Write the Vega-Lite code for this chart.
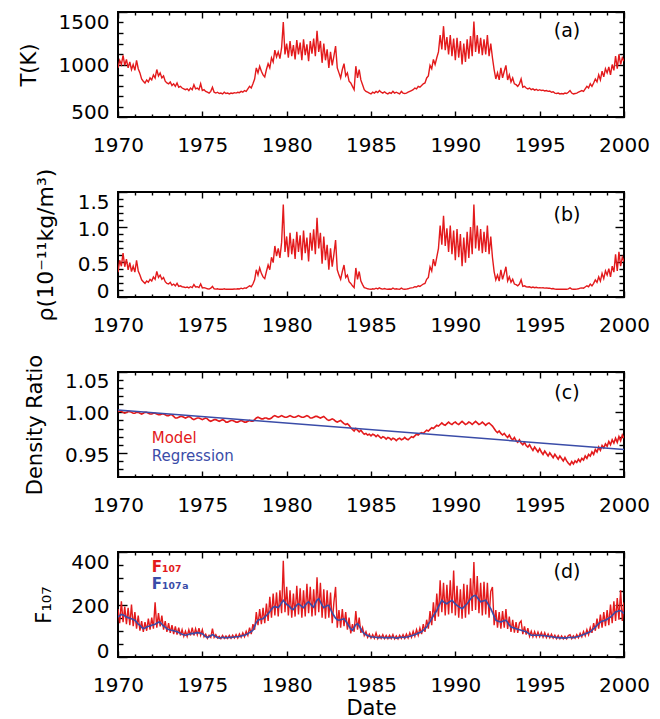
{
"$schema":"https://vega.github.io/schema/vega-lite/v6.json",
"background":"white",
"padding":{"left":17,"top":10,"right":5,"bottom":2},
"spacing":75,
"bounds":"flush",
"config":{
 "view":{"stroke":"#000","strokeWidth":2},
 "axis":{"domain":false,"grid":false,"labelOverlap":false,"labelBound":false,"labelFlush":false,"tickColor":"#000","tickWidth":1.4,"labelFont":"DejaVu Sans","labelFontSize":20,"labelColor":"#000","titleFont":"DejaVu Sans","titleFontSize":21,"titleFontWeight":"normal","titleColor":"#000","zindex":1}
},
"datasets":{
"reg":[{"t":1970,"c":1.003},{"t":2000,"c":0.954}],
"d":[
{"t":1970.0,"T":968,"r":0.355,"c":1.001,"f":183,"fa":152},
{"t":1970.1,"T":1040,"r":0.525,"c":1.002,"f":129,"fa":158},
{"t":1970.2,"T":1000,"r":0.44,"c":1.001,"f":212,"fa":162},
{"t":1970.3,"T":1088,"r":0.627,"c":1.000,"f":133,"fa":160},
{"t":1970.4,"T":992,"r":0.432,"c":0.999,"f":192,"fa":157},
{"t":1970.5,"T":1048,"r":0.542,"c":1.000,"f":125,"fa":152},
{"t":1970.6,"T":968,"r":0.389,"c":1.001,"f":187,"fa":150},
{"t":1970.7,"T":1024,"r":0.491,"c":1.001,"f":121,"fa":148},
{"t":1970.8,"T":952,"r":0.364,"c":1.000,"f":200,"fa":146},
{"t":1970.9,"T":1000,"r":0.44,"c":0.999,"f":117,"fa":143},
{"t":1971.0,"T":944,"r":0.355,"c":0.999,"f":171,"fa":140},
{"t":1971.1,"T":1040,"r":0.525,"c":1.000,"f":108,"fa":133},
{"t":1971.2,"T":960,"r":0.372,"c":1.000,"f":158,"fa":125},
{"t":1971.3,"T":920,"r":0.313,"c":0.999,"f":100,"fa":121},
{"t":1971.4,"T":862,"r":0.245,"c":0.998,"f":137,"fa":113},
{"t":1971.5,"T":841,"r":0.219,"c":0.999,"f":96,"fa":108},
{"t":1971.6,"T":824,"r":0.194,"c":1.000,"f":133,"fa":110},
{"t":1971.7,"T":853,"r":0.228,"c":1.000,"f":100,"fa":114},
{"t":1971.8,"T":834,"r":0.21,"c":0.999,"f":146,"fa":117},
{"t":1971.9,"T":872,"r":0.253,"c":0.998,"f":104,"fa":118},
{"t":1972.0,"T":853,"r":0.228,"c":0.998,"f":150,"fa":121},
{"t":1972.1,"T":901,"r":0.287,"c":0.999,"f":108,"fa":123},
{"t":1972.2,"T":872,"r":0.253,"c":0.999,"f":208,"fa":125},
{"t":1972.3,"T":952,"r":0.364,"c":0.998,"f":112,"fa":129},
{"t":1972.4,"T":891,"r":0.279,"c":0.997,"f":167,"fa":133},
{"t":1972.5,"T":920,"r":0.313,"c":0.997,"f":117,"fa":132},
{"t":1972.6,"T":872,"r":0.253,"c":0.998,"f":158,"fa":125},
{"t":1972.7,"T":891,"r":0.279,"c":0.998,"f":104,"fa":118},
{"t":1972.8,"T":841,"r":0.219,"c":0.997,"f":137,"fa":114},
{"t":1972.9,"T":824,"r":0.194,"c":0.996,"f":96,"fa":108},
{"t":1973.0,"T":816,"r":0.185,"c":0.996,"f":129,"fa":105},
{"t":1973.1,"T":834,"r":0.21,"c":0.997,"f":92,"fa":103},
{"t":1973.2,"T":800,"r":0.168,"c":0.997,"f":121,"fa":102},
{"t":1973.3,"T":816,"r":0.185,"c":0.995,"f":87,"fa":100},
{"t":1973.4,"T":792,"r":0.16,"c":0.993,"f":117,"fa":98},
{"t":1973.5,"T":824,"r":0.194,"c":0.993,"f":85,"fa":96},
{"t":1973.6,"T":784,"r":0.151,"c":0.994,"f":112,"fa":93},
{"t":1973.7,"T":792,"r":0.16,"c":0.995,"f":82,"fa":90},
{"t":1973.8,"T":776,"r":0.147,"c":0.995,"f":104,"fa":87},
{"t":1973.9,"T":768,"r":0.143,"c":0.994,"f":79,"fa":85},
{"t":1974.0,"T":760,"r":0.134,"c":0.993,"f":98,"fa":83},
{"t":1974.1,"T":768,"r":0.143,"c":0.994,"f":78,"fa":85},
{"t":1974.2,"T":752,"r":0.13,"c":0.995,"f":104,"fa":87},
{"t":1974.3,"T":776,"r":0.147,"c":0.994,"f":82,"fa":89},
{"t":1974.4,"T":760,"r":0.134,"c":0.992,"f":112,"fa":90},
{"t":1974.5,"T":808,"r":0.177,"c":0.991,"f":82,"fa":89},
{"t":1974.6,"T":768,"r":0.143,"c":0.992,"f":108,"fa":92},
{"t":1974.7,"T":776,"r":0.147,"c":0.993,"f":85,"fa":93},
{"t":1974.8,"T":760,"r":0.134,"c":0.993,"f":110,"fa":92},
{"t":1974.9,"T":816,"r":0.185,"c":0.992,"f":83,"fa":90},
{"t":1975.0,"T":752,"r":0.13,"c":0.991,"f":104,"fa":89},
{"t":1975.1,"T":760,"r":0.134,"c":0.992,"f":77,"fa":83},
{"t":1975.2,"T":744,"r":0.126,"c":0.993,"f":87,"fa":78},
{"t":1975.3,"T":736,"r":0.117,"c":0.992,"f":71,"fa":74},
{"t":1975.4,"T":728,"r":0.113,"c":0.990,"f":83,"fa":77},
{"t":1975.5,"T":744,"r":0.126,"c":0.989,"f":75,"fa":81},
{"t":1975.6,"T":784,"r":0.151,"c":0.990,"f":108,"fa":85},
{"t":1975.7,"T":736,"r":0.117,"c":0.991,"f":75,"fa":82},
{"t":1975.8,"T":728,"r":0.113,"c":0.991,"f":85,"fa":77},
{"t":1975.9,"T":736,"r":0.117,"c":0.990,"f":72,"fa":75},
{"t":1976.0,"T":724,"r":0.11,"c":0.989,"f":79,"fa":72},
{"t":1976.1,"T":728,"r":0.113,"c":0.990,"f":70,"fa":73},
{"t":1976.2,"T":720,"r":0.11,"c":0.991,"f":82,"fa":75},
{"t":1976.3,"T":736,"r":0.117,"c":0.990,"f":71,"fa":74},
{"t":1976.4,"T":724,"r":0.11,"c":0.988,"f":80,"fa":73},
{"t":1976.5,"T":728,"r":0.113,"c":0.988,"f":71,"fa":74},
{"t":1976.6,"T":720,"r":0.11,"c":0.989,"f":82,"fa":75},
{"t":1976.7,"T":728,"r":0.113,"c":0.990,"f":71,"fa":74},
{"t":1976.8,"T":724,"r":0.11,"c":0.990,"f":83,"fa":75},
{"t":1976.9,"T":732,"r":0.115,"c":0.989,"f":72,"fa":76},
{"t":1977.0,"T":728,"r":0.113,"c":0.988,"f":85,"fa":77},
{"t":1977.1,"T":736,"r":0.117,"c":0.988,"f":72,"fa":77},
{"t":1977.2,"T":732,"r":0.115,"c":0.989,"f":88,"fa":78},
{"t":1977.3,"T":744,"r":0.126,"c":0.990,"f":75,"fa":80},
{"t":1977.4,"T":736,"r":0.117,"c":0.989,"f":92,"fa":82},
{"t":1977.5,"T":752,"r":0.13,"c":0.988,"f":77,"fa":83},
{"t":1977.6,"T":744,"r":0.126,"c":0.988,"f":98,"fa":86},
{"t":1977.7,"T":768,"r":0.143,"c":0.989,"f":82,"fa":89},
{"t":1977.8,"T":792,"r":0.16,"c":0.990,"f":112,"fa":93},
{"t":1977.9,"T":776,"r":0.147,"c":0.989,"f":87,"fa":97},
{"t":1978.0,"T":816,"r":0.185,"c":0.989,"f":125,"fa":102},
{"t":1978.1,"T":862,"r":0.245,"c":0.991,"f":104,"fa":117},
{"t":1978.2,"T":968,"r":0.389,"c":0.993,"f":171,"fa":132},
{"t":1978.3,"T":920,"r":0.313,"c":0.994,"f":121,"fa":140},
{"t":1978.4,"T":984,"r":0.415,"c":0.993,"f":183,"fa":143},
{"t":1978.5,"T":936,"r":0.338,"c":0.992,"f":125,"fa":145},
{"t":1978.6,"T":901,"r":0.287,"c":0.992,"f":187,"fa":146},
{"t":1978.7,"T":882,"r":0.262,"c":0.993,"f":129,"fa":152},
{"t":1978.8,"T":952,"r":0.364,"c":0.993,"f":204,"fa":158},
{"t":1978.9,"T":1008,"r":0.457,"c":0.992,"f":137,"fa":165},
{"t":1979.0,"T":968,"r":0.389,"c":0.992,"f":229,"fa":173},
{"t":1979.1,"T":1064,"r":0.568,"c":0.993,"f":150,"fa":182},
{"t":1979.2,"T":1024,"r":0.491,"c":0.995,"f":242,"fa":190},
{"t":1979.3,"T":1136,"r":0.729,"c":0.996,"f":158,"fa":192},
{"t":1979.4,"T":1072,"r":0.585,"c":0.995,"f":246,"fa":190},
{"t":1979.5,"T":1120,"r":0.695,"c":0.994,"f":154,"fa":188},
{"t":1979.6,"T":1056,"r":0.559,"c":0.995,"f":254,"fa":196},
{"t":1979.7,"T":1160,"r":0.78,"c":0.996,"f":167,"fa":207},
{"t":1979.8,"T":1405,"r":1.32,"c":0.995,"f":367,"fa":216},
{"t":1979.9,"T":1096,"r":0.644,"c":0.994,"f":171,"fa":208},
{"t":1980.0,"T":1200,"r":0.865,"c":0.994,"f":267,"fa":200},
{"t":1980.1,"T":1064,"r":0.568,"c":0.995,"f":158,"fa":197},
{"t":1980.2,"T":1224,"r":0.916,"c":0.996,"f":254,"fa":190},
{"t":1980.3,"T":1080,"r":0.61,"c":0.995,"f":150,"fa":183},
{"t":1980.4,"T":1184,"r":0.831,"c":0.994,"f":242,"fa":181},
{"t":1980.5,"T":1048,"r":0.542,"c":0.994,"f":154,"fa":190},
{"t":1980.6,"T":1232,"r":0.933,"c":0.995,"f":271,"fa":198},
{"t":1980.7,"T":1096,"r":0.644,"c":0.996,"f":162,"fa":203},
{"t":1980.8,"T":1208,"r":0.882,"c":0.995,"f":262,"fa":198},
{"t":1980.9,"T":1040,"r":0.525,"c":0.994,"f":150,"fa":192},
{"t":1981.0,"T":1240,"r":0.95,"c":0.994,"f":254,"fa":188},
{"t":1981.1,"T":1088,"r":0.627,"c":0.995,"f":154,"fa":197},
{"t":1981.2,"T":1192,"r":0.848,"c":0.996,"f":279,"fa":205},
{"t":1981.3,"T":1032,"r":0.508,"c":0.995,"f":167,"fa":210},
{"t":1981.4,"T":1224,"r":0.916,"c":0.993,"f":267,"fa":203},
{"t":1981.5,"T":1104,"r":0.661,"c":0.993,"f":154,"fa":195},
{"t":1981.6,"T":1248,"r":0.967,"c":0.994,"f":258,"fa":190},
{"t":1981.7,"T":1080,"r":0.61,"c":0.995,"f":158,"fa":204},
{"t":1981.8,"T":1320,"r":1.13,"c":0.995,"f":304,"fa":217},
{"t":1981.9,"T":1120,"r":0.695,"c":0.994,"f":171,"fa":222},
{"t":1982.0,"T":1224,"r":0.916,"c":0.993,"f":283,"fa":210},
{"t":1982.1,"T":1016,"r":0.474,"c":0.994,"f":150,"fa":197},
{"t":1982.2,"T":1200,"r":0.865,"c":0.995,"f":258,"fa":188},
{"t":1982.3,"T":1040,"r":0.525,"c":0.993,"f":146,"fa":192},
{"t":1982.4,"T":1144,"r":0.746,"c":0.991,"f":254,"fa":196},
{"t":1982.5,"T":968,"r":0.389,"c":0.990,"f":150,"fa":197},
{"t":1982.6,"T":1120,"r":0.695,"c":0.991,"f":246,"fa":182},
{"t":1982.7,"T":992,"r":0.432,"c":0.992,"f":129,"fa":168},
{"t":1982.8,"T":1080,"r":0.61,"c":0.991,"f":208,"fa":158},
{"t":1982.9,"T":1176,"r":0.814,"c":0.989,"f":267,"fa":148},
{"t":1983.0,"T":968,"r":0.389,"c":0.988,"f":112,"fa":142},
{"t":1983.1,"T":920,"r":0.313,"c":0.989,"f":179,"fa":140},
{"t":1983.2,"T":872,"r":0.253,"c":0.990,"f":112,"fa":142},
{"t":1983.3,"T":952,"r":0.364,"c":0.988,"f":183,"fa":144},
{"t":1983.4,"T":1008,"r":0.457,"c":0.986,"f":117,"fa":146},
{"t":1983.5,"T":891,"r":0.279,"c":0.985,"f":171,"fa":137},
{"t":1983.6,"T":920,"r":0.313,"c":0.986,"f":104,"fa":127},
{"t":1983.7,"T":841,"r":0.219,"c":0.984,"f":150,"fa":117},
{"t":1983.8,"T":824,"r":0.194,"c":0.981,"f":90,"fa":107},
{"t":1983.9,"T":792,"r":0.16,"c":0.979,"f":125,"fa":102},
{"t":1984.0,"T":760,"r":0.134,"c":0.977,"f":96,"fa":112},
{"t":1984.1,"T":984,"r":0.415,"c":0.980,"f":175,"fa":123},
{"t":1984.2,"T":872,"r":0.253,"c":0.978,"f":104,"fa":127},
{"t":1984.3,"T":952,"r":0.364,"c":0.976,"f":150,"fa":118},
{"t":1984.4,"T":853,"r":0.228,"c":0.978,"f":92,"fa":107},
{"t":1984.5,"T":808,"r":0.177,"c":0.975,"f":112,"fa":96},
{"t":1984.6,"T":760,"r":0.134,"c":0.973,"f":82,"fa":89},
{"t":1984.7,"T":744,"r":0.126,"c":0.974,"f":96,"fa":85},
{"t":1984.8,"T":736,"r":0.117,"c":0.972,"f":75,"fa":82},
{"t":1984.9,"T":728,"r":0.113,"c":0.973,"f":87,"fa":79},
{"t":1985.0,"T":720,"r":0.11,"c":0.971,"f":72,"fa":77},
{"t":1985.1,"T":736,"r":0.117,"c":0.973,"f":85,"fa":76},
{"t":1985.2,"T":728,"r":0.113,"c":0.972,"f":71,"fa":75},
{"t":1985.3,"T":744,"r":0.126,"c":0.970,"f":92,"fa":75},
{"t":1985.4,"T":732,"r":0.115,"c":0.972,"f":70,"fa":74},
{"t":1985.5,"T":752,"r":0.13,"c":0.970,"f":82,"fa":74},
{"t":1985.6,"T":736,"r":0.117,"c":0.968,"f":71,"fa":75},
{"t":1985.7,"T":728,"r":0.113,"c":0.970,"f":85,"fa":74},
{"t":1985.8,"T":740,"r":0.121,"c":0.969,"f":70,"fa":73},
{"t":1985.9,"T":728,"r":0.113,"c":0.967,"f":82,"fa":74},
{"t":1986.0,"T":720,"r":0.11,"c":0.969,"f":70,"fa":74},
{"t":1986.1,"T":732,"r":0.115,"c":0.968,"f":83,"fa":73},
{"t":1986.2,"T":724,"r":0.11,"c":0.966,"f":70,"fa":74},
{"t":1986.3,"T":744,"r":0.126,"c":0.968,"f":85,"fa":75},
{"t":1986.4,"T":728,"r":0.113,"c":0.967,"f":69,"fa":73},
{"t":1986.5,"T":736,"r":0.117,"c":0.965,"f":80,"fa":72},
{"t":1986.6,"T":728,"r":0.113,"c":0.967,"f":69,"fa":73},
{"t":1986.7,"T":720,"r":0.11,"c":0.968,"f":83,"fa":74},
{"t":1986.8,"T":744,"r":0.126,"c":0.966,"f":71,"fa":75},
{"t":1986.9,"T":728,"r":0.113,"c":0.967,"f":85,"fa":75},
{"t":1987.0,"T":724,"r":0.11,"c":0.969,"f":71,"fa":74},
{"t":1987.1,"T":728,"r":0.113,"c":0.967,"f":87,"fa":76},
{"t":1987.2,"T":736,"r":0.117,"c":0.966,"f":72,"fa":77},
{"t":1987.3,"T":744,"r":0.126,"c":0.968,"f":92,"fa":79},
{"t":1987.4,"T":752,"r":0.13,"c":0.970,"f":75,"fa":81},
{"t":1987.5,"T":760,"r":0.134,"c":0.969,"f":98,"fa":83},
{"t":1987.6,"T":776,"r":0.147,"c":0.971,"f":79,"fa":86},
{"t":1987.7,"T":768,"r":0.143,"c":0.973,"f":104,"fa":88},
{"t":1987.8,"T":792,"r":0.16,"c":0.972,"f":83,"fa":91},
{"t":1987.9,"T":784,"r":0.151,"c":0.974,"f":110,"fa":93},
{"t":1988.0,"T":800,"r":0.168,"c":0.975,"f":87,"fa":96},
{"t":1988.1,"T":816,"r":0.185,"c":0.974,"f":125,"fa":102},
{"t":1988.2,"T":824,"r":0.194,"c":0.976,"f":96,"fa":108},
{"t":1988.3,"T":872,"r":0.253,"c":0.978,"f":142,"fa":114},
{"t":1988.4,"T":891,"r":0.279,"c":0.977,"f":108,"fa":125},
{"t":1988.5,"T":992,"r":0.432,"c":0.979,"f":175,"fa":135},
{"t":1988.6,"T":960,"r":0.372,"c":0.981,"f":121,"fa":146},
{"t":1988.7,"T":1048,"r":0.542,"c":0.980,"f":208,"fa":157},
{"t":1988.8,"T":1000,"r":0.44,"c":0.982,"f":137,"fa":167},
{"t":1988.9,"T":1064,"r":0.568,"c":0.984,"f":242,"fa":177},
{"t":1989.0,"T":1120,"r":0.695,"c":0.983,"f":154,"fa":192},
{"t":1989.1,"T":1280,"r":1.02,"c":0.985,"f":292,"fa":204},
{"t":1989.2,"T":1144,"r":0.746,"c":0.987,"f":171,"fa":216},
{"t":1989.3,"T":1365,"r":1.16,"c":0.985,"f":283,"fa":210},
{"t":1989.4,"T":1136,"r":0.729,"c":0.984,"f":158,"fa":206},
{"t":1989.5,"T":1262,"r":0.98,"c":0.986,"f":275,"fa":203},
{"t":1989.6,"T":1096,"r":0.644,"c":0.988,"f":162,"fa":208},
{"t":1989.7,"T":1280,"r":1.02,"c":0.986,"f":292,"fa":212},
{"t":1989.8,"T":1080,"r":0.61,"c":0.985,"f":167,"fa":216},
{"t":1989.9,"T":1247,"r":0.95,"c":0.987,"f":329,"fa":209},
{"t":1990.0,"T":1040,"r":0.525,"c":0.988,"f":158,"fa":202},
{"t":1990.1,"T":1255,"r":0.97,"c":0.986,"f":271,"fa":197},
{"t":1990.2,"T":1064,"r":0.568,"c":0.985,"f":150,"fa":192},
{"t":1990.3,"T":1223,"r":0.90,"c":0.987,"f":258,"fa":188},
{"t":1990.4,"T":1000,"r":0.44,"c":0.989,"f":146,"fa":184},
{"t":1990.5,"T":1199,"r":0.85,"c":0.987,"f":279,"fa":190},
{"t":1990.6,"T":1024,"r":0.491,"c":0.985,"f":150,"fa":197},
{"t":1990.7,"T":1239,"r":0.93,"c":0.986,"f":275,"fa":203},
{"t":1990.8,"T":1056,"r":0.559,"c":0.988,"f":162,"fa":212},
{"t":1990.9,"T":1271,"r":1.00,"c":0.987,"f":300,"fa":221},
{"t":1991.0,"T":1080,"r":0.61,"c":0.985,"f":175,"fa":229},
{"t":1991.1,"T":1410,"r":1.32,"c":0.987,"f":362,"fa":233},
{"t":1991.2,"T":1120,"r":0.695,"c":0.989,"f":179,"fa":235},
{"t":1991.3,"T":1280,"r":1.02,"c":0.987,"f":308,"fa":227},
{"t":1991.4,"T":1104,"r":0.661,"c":0.985,"f":167,"fa":218},
{"t":1991.5,"T":1255,"r":0.97,"c":0.986,"f":283,"fa":210},
{"t":1991.6,"T":1088,"r":0.627,"c":0.988,"f":158,"fa":212},
{"t":1991.7,"T":1239,"r":0.93,"c":0.986,"f":287,"fa":214},
{"t":1991.8,"T":1096,"r":0.644,"c":0.984,"f":162,"fa":216},
{"t":1991.9,"T":1280,"r":1.02,"c":0.986,"f":283,"fa":206},
{"t":1992.0,"T":1080,"r":0.61,"c":0.987,"f":150,"fa":195},
{"t":1992.1,"T":1200,"r":0.865,"c":0.985,"f":250,"fa":184},
{"t":1992.2,"T":1064,"r":0.568,"c":0.983,"f":267,"fa":170},
{"t":1992.3,"T":952,"r":0.364,"c":0.980,"f":121,"fa":155},
{"t":1992.4,"T":862,"r":0.245,"c":0.977,"f":179,"fa":140},
{"t":1992.5,"T":920,"r":0.313,"c":0.975,"f":112,"fa":137},
{"t":1992.6,"T":853,"r":0.228,"c":0.977,"f":171,"fa":135},
{"t":1992.7,"T":968,"r":0.389,"c":0.974,"f":108,"fa":133},
{"t":1992.8,"T":872,"r":0.253,"c":0.972,"f":175,"fa":136},
{"t":1992.9,"T":936,"r":0.338,"c":0.974,"f":112,"fa":138},
{"t":1993.0,"T":992,"r":0.432,"c":0.971,"f":183,"fa":140},
{"t":1993.1,"T":853,"r":0.228,"c":0.969,"f":107,"fa":132},
{"t":1993.2,"T":901,"r":0.287,"c":0.972,"f":154,"fa":122},
{"t":1993.3,"T":834,"r":0.21,"c":0.968,"f":96,"fa":114},
{"t":1993.4,"T":872,"r":0.253,"c":0.966,"f":142,"fa":112},
{"t":1993.5,"T":816,"r":0.185,"c":0.969,"f":93,"fa":110},
{"t":1993.6,"T":808,"r":0.177,"c":0.965,"f":133,"fa":108},
{"t":1993.7,"T":792,"r":0.16,"c":0.963,"f":92,"fa":106},
{"t":1993.8,"T":816,"r":0.185,"c":0.966,"f":129,"fa":104},
{"t":1993.9,"T":862,"r":0.245,"c":0.962,"f":137,"fa":102},
{"t":1994.0,"T":784,"r":0.151,"c":0.960,"f":87,"fa":100},
{"t":1994.1,"T":792,"r":0.16,"c":0.963,"f":117,"fa":98},
{"t":1994.2,"T":776,"r":0.147,"c":0.959,"f":85,"fa":96},
{"t":1994.3,"T":768,"r":0.143,"c":0.957,"f":110,"fa":92},
{"t":1994.4,"T":776,"r":0.147,"c":0.960,"f":79,"fa":87},
{"t":1994.5,"T":760,"r":0.134,"c":0.956,"f":98,"fa":83},
{"t":1994.6,"T":768,"r":0.143,"c":0.953,"f":77,"fa":83},
{"t":1994.7,"T":756,"r":0.132,"c":0.957,"f":96,"fa":83},
{"t":1994.8,"T":764,"r":0.138,"c":0.954,"f":77,"fa":83},
{"t":1994.9,"T":752,"r":0.13,"c":0.951,"f":95,"fa":83},
{"t":1995.0,"T":760,"r":0.134,"c":0.955,"f":77,"fa":83},
{"t":1995.1,"T":752,"r":0.13,"c":0.951,"f":93,"fa":82},
{"t":1995.2,"T":756,"r":0.132,"c":0.948,"f":75,"fa":82},
{"t":1995.3,"T":748,"r":0.127,"c":0.952,"f":92,"fa":81},
{"t":1995.4,"T":752,"r":0.13,"c":0.949,"f":74,"fa":80},
{"t":1995.5,"T":744,"r":0.126,"c":0.946,"f":88,"fa":79},
{"t":1995.6,"T":748,"r":0.127,"c":0.950,"f":73,"fa":78},
{"t":1995.7,"T":736,"r":0.117,"c":0.947,"f":87,"fa":77},
{"t":1995.8,"T":740,"r":0.121,"c":0.944,"f":72,"fa":76},
{"t":1995.9,"T":728,"r":0.113,"c":0.948,"f":83,"fa":75},
{"t":1996.0,"T":724,"r":0.11,"c":0.945,"f":70,"fa":74},
{"t":1996.1,"T":728,"r":0.113,"c":0.942,"f":82,"fa":74},
{"t":1996.2,"T":720,"r":0.11,"c":0.946,"f":69,"fa":73},
{"t":1996.3,"T":724,"r":0.11,"c":0.943,"f":80,"fa":73},
{"t":1996.4,"T":720,"r":0.11,"c":0.940,"f":69,"fa":73},
{"t":1996.5,"T":728,"r":0.113,"c":0.944,"f":79,"fa":72},
{"t":1996.6,"T":724,"r":0.11,"c":0.940,"f":69,"fa":73},
{"t":1996.7,"T":736,"r":0.117,"c":0.937,"f":82,"fa":74},
{"t":1996.8,"T":752,"r":0.13,"c":0.935,"f":85,"fa":75},
{"t":1996.9,"T":728,"r":0.113,"c":0.939,"f":70,"fa":74},
{"t":1997.0,"T":720,"r":0.11,"c":0.936,"f":81,"fa":74},
{"t":1997.1,"T":724,"r":0.11,"c":0.940,"f":71,"fa":75},
{"t":1997.2,"T":728,"r":0.113,"c":0.938,"f":85,"fa":77},
{"t":1997.3,"T":736,"r":0.117,"c":0.942,"f":73,"fa":78},
{"t":1997.4,"T":744,"r":0.126,"c":0.939,"f":90,"fa":81},
{"t":1997.5,"T":752,"r":0.13,"c":0.943,"f":77,"fa":83},
{"t":1997.6,"T":744,"r":0.126,"c":0.941,"f":97,"fa":86},
{"t":1997.7,"T":768,"r":0.143,"c":0.946,"f":81,"fa":88},
{"t":1997.8,"T":792,"r":0.16,"c":0.943,"f":104,"fa":91},
{"t":1997.9,"T":776,"r":0.147,"c":0.948,"f":85,"fa":93},
{"t":1998.0,"T":816,"r":0.185,"c":0.946,"f":112,"fa":96},
{"t":1998.1,"T":792,"r":0.16,"c":0.951,"f":92,"fa":102},
{"t":1998.2,"T":824,"r":0.194,"c":0.948,"f":129,"fa":108},
{"t":1998.3,"T":862,"r":0.245,"c":0.954,"f":100,"fa":114},
{"t":1998.4,"T":834,"r":0.21,"c":0.951,"f":146,"fa":121},
{"t":1998.5,"T":901,"r":0.287,"c":0.957,"f":108,"fa":127},
{"t":1998.6,"T":853,"r":0.228,"c":0.953,"f":162,"fa":133},
{"t":1998.7,"T":936,"r":0.338,"c":0.959,"f":112,"fa":136},
{"t":1998.8,"T":882,"r":0.262,"c":0.956,"f":171,"fa":138},
{"t":1998.9,"T":960,"r":0.372,"c":0.961,"f":117,"fa":140},
{"t":1999.0,"T":920,"r":0.313,"c":0.958,"f":179,"fa":144},
{"t":1999.1,"T":976,"r":0.406,"c":0.964,"f":121,"fa":148},
{"t":1999.2,"T":901,"r":0.287,"c":0.960,"f":200,"fa":152},
{"t":1999.3,"T":1000,"r":0.44,"c":0.966,"f":129,"fa":158},
{"t":1999.4,"T":944,"r":0.355,"c":0.962,"f":212,"fa":165},
{"t":1999.5,"T":1080,"r":0.61,"c":0.968,"f":137,"fa":172},
{"t":1999.6,"T":960,"r":0.372,"c":0.963,"f":225,"fa":173},
{"t":1999.7,"T":1096,"r":0.644,"c":0.970,"f":142,"fa":176},
{"t":1999.8,"T":1000,"r":0.44,"c":0.965,"f":254,"fa":177},
{"t":1999.9,"T":1064,"r":0.568,"c":0.972,"f":137,"fa":171},
{"t":2000.0,"T":1032,"r":0.508,"c":0.968,"f":208,"fa":165}
]},
"vconcat":[
{
 "width":506,"height":105,
 "resolve":{"axis":{"x":"independent","y":"independent"}},
 "layer":[
  {"data":{"name":"d"},"mark":{"type":"line","color":"#e31a1c","strokeWidth":1.4,"clip":true},
   "encoding":{
    "x":{"field":"t","type":"quantitative","scale":{"domain":[1970,2000],"nice":false,"zero":false},
      "axis":{"orient":"bottom","values":[1970,1975,1980,1985,1990,1995,2000],"format":"d","tickSize":-6,"labelPadding":24.8,"labelFlush":false,"title":null}},
    "y":{"field":"T","type":"quantitative","scale":{"domain":[500,1500],"nice":false,"zero":false},
      "axis":{"orient":"left","values":[500,1000,1500],"format":"d","tickSize":-9,"labelPadding":18,
        "labelOffset":{"condition":[{"test":"datum.value == 1500","value":10},{"test":"datum.value == 500","value":-5}],"value":1.3},
        "title":"T(K)","titleX":-89,"titleY":52.5,"titleAngle":270,"titleAlign":"center","titleBaseline":"middle"}}}},
  {"data":{"name":"d"},"mark":{"type":"line","opacity":0},
   "encoding":{
    "x":{"field":"t","type":"quantitative","axis":{"orient":"bottom","values":[1971,1972,1973,1974,1976,1977,1978,1979,1981,1982,1983,1984,1986,1987,1988,1989,1991,1992,1993,1994,1996,1997,1998,1999],"tickSize":-3,"labels":false,"title":null}},
    "y":{"field":"T","type":"quantitative","axis":{"orient":"left","values":[600,700,800,900,1100,1200,1300,1400],"tickSize":-5,"labels":false,"title":null}}}},
  {"data":{"name":"d"},"mark":{"type":"line","opacity":0},
   "encoding":{
    "x":{"field":"t","type":"quantitative","axis":{"orient":"top","values":[1970,1975,1980,1985,1990,1995,2000],"tickSize":-6,"labels":false,"title":null}},
    "y":{"field":"T","type":"quantitative","axis":{"orient":"right","values":[500,1000,1500],"tickSize":-9,"labels":false,"title":null}}}},
  {"data":{"name":"d"},"mark":{"type":"line","opacity":0},
   "encoding":{
    "x":{"field":"t","type":"quantitative","axis":{"orient":"top","values":[1971,1972,1973,1974,1976,1977,1978,1979,1981,1982,1983,1984,1986,1987,1988,1989,1991,1992,1993,1994,1996,1997,1998,1999],"tickSize":-3,"labels":false,"title":null}},
    "y":{"field":"T","type":"quantitative","axis":{"orient":"right","values":[600,700,800,900,1100,1200,1300,1400],"tickSize":-5,"labels":false,"title":null}}}},
  {"data":{"values":[{}]},"mark":{"type":"text","font":"DejaVu Sans","fontSize":19,"align":"center","baseline":"middle","color":"#000"},
   "encoding":{"x":{"datum":1996.62,"type":"quantitative","axis":null},"y":{"datum":1319,"type":"quantitative","axis":null},"text":{"value":"(a)"}}}
 ]
},
{
 "width":506,"height":105,
 "resolve":{"axis":{"x":"independent","y":"independent"}},
 "layer":[
  {"data":{"name":"d"},"mark":{"type":"line","color":"#e31a1c","strokeWidth":1.4,"clip":true},
   "encoding":{
    "x":{"field":"t","type":"quantitative","scale":{"domain":[1970,2000],"nice":false,"zero":false},
      "axis":{"orient":"bottom","values":[1970,1975,1980,1985,1990,1995,2000],"format":"d","tickSize":-6,"labelPadding":24.8,"labelFlush":false,"title":null}},
    "y":{"field":"r","type":"quantitative","scale":{"domain":[0,1.5],"nice":false,"zero":false},
      "axis":{"orient":"left","values":[0,0.5,1,1.5],"labelExpr":"datum.value == 0 ? '0' : format(datum.value, '.1f')","tickSize":-9,"labelPadding":18,
        "labelOffset":{"condition":[{"test":"datum.value == 1.5","value":10},{"test":"datum.value == 0","value":-6}],"value":2},
        "title":"ρ(10⁻¹¹kg/m³)","titleFontSize":22,"titleX":-73,"titleY":52.5,"titleAngle":270,"titleAlign":"center","titleBaseline":"middle"}}}},
  {"data":{"name":"d"},"mark":{"type":"line","opacity":0},
   "encoding":{
    "x":{"field":"t","type":"quantitative","axis":{"orient":"bottom","values":[1971,1972,1973,1974,1976,1977,1978,1979,1981,1982,1983,1984,1986,1987,1988,1989,1991,1992,1993,1994,1996,1997,1998,1999],"tickSize":-3,"labels":false,"title":null}},
    "y":{"field":"r","type":"quantitative","axis":{"orient":"left","values":[0.1,0.2,0.3,0.4,0.6,0.7,0.8,0.9,1.1,1.2,1.3,1.4],"tickSize":-5,"labels":false,"title":null}}}},
  {"data":{"name":"d"},"mark":{"type":"line","opacity":0},
   "encoding":{
    "x":{"field":"t","type":"quantitative","axis":{"orient":"top","values":[1970,1975,1980,1985,1990,1995,2000],"tickSize":-6,"labels":false,"title":null}},
    "y":{"field":"r","type":"quantitative","axis":{"orient":"right","values":[0,0.5,1,1.5],"tickSize":-9,"labels":false,"title":null}}}},
  {"data":{"name":"d"},"mark":{"type":"line","opacity":0},
   "encoding":{
    "x":{"field":"t","type":"quantitative","axis":{"orient":"top","values":[1971,1972,1973,1974,1976,1977,1978,1979,1981,1982,1983,1984,1986,1987,1988,1989,1991,1992,1993,1994,1996,1997,1998,1999],"tickSize":-3,"labels":false,"title":null}},
    "y":{"field":"r","type":"quantitative","axis":{"orient":"right","values":[0.1,0.2,0.3,0.4,0.6,0.7,0.8,0.9,1.1,1.2,1.3,1.4],"tickSize":-5,"labels":false,"title":null}}}},
  {"data":{"values":[{}]},"mark":{"type":"text","font":"DejaVu Sans","fontSize":19,"align":"center","baseline":"middle","color":"#000"},
   "encoding":{"x":{"datum":1996.62,"type":"quantitative","axis":null},"y":{"datum":1.17,"type":"quantitative","axis":null},"text":{"value":"(b)"}}}
 ]
},
{
 "width":506,"height":105,
 "resolve":{"axis":{"x":"independent","y":"independent"}},
 "layer":[
  {"data":{"name":"d"},"mark":{"type":"line","color":"#e31a1c","strokeWidth":1.6,"clip":true},
   "encoding":{
    "x":{"field":"t","type":"quantitative","scale":{"domain":[1970,2000],"nice":false,"zero":false},
      "axis":{"orient":"bottom","values":[1970,1975,1980,1985,1990,1995,2000],"format":"d","tickSize":-6,"labelPadding":24.8,"labelFlush":false,"title":null}},
    "y":{"field":"c","type":"quantitative","scale":{"domain":[0.92,1.05],"nice":false,"zero":false},
      "axis":{"orient":"left","values":[0.95,1,1.05],"format":".2f","tickSize":-9,"labelPadding":18,
        "labelOffset":{"condition":[{"test":"datum.value == 1.05","value":9.5},{"test":"datum.value == 0.95","value":3}],"value":1.5},
        "title":"Density Ratio","titleX":-83,"titleY":52.5,"titleAngle":270,"titleAlign":"center","titleBaseline":"middle"}}}},
  {"data":{"name":"reg"},"mark":{"type":"line","color":"#3a4ca8","strokeWidth":1.5,"clip":true},
   "encoding":{"x":{"field":"t","type":"quantitative","axis":null},"y":{"field":"c","type":"quantitative","axis":null}}},
  {"data":{"name":"d"},"mark":{"type":"line","opacity":0},
   "encoding":{
    "x":{"field":"t","type":"quantitative","axis":{"orient":"bottom","values":[1971,1972,1973,1974,1976,1977,1978,1979,1981,1982,1983,1984,1986,1987,1988,1989,1991,1992,1993,1994,1996,1997,1998,1999],"tickSize":-3,"labels":false,"title":null}},
    "y":{"field":"c","type":"quantitative","axis":{"orient":"left","values":[0.93,0.94,0.96,0.97,0.98,0.99,1.01,1.02,1.03,1.04],"tickSize":-5,"labels":false,"title":null}}}},
  {"data":{"name":"d"},"mark":{"type":"line","opacity":0},
   "encoding":{
    "x":{"field":"t","type":"quantitative","axis":{"orient":"top","values":[1970,1975,1980,1985,1990,1995,2000],"tickSize":-6,"labels":false,"title":null}},
    "y":{"field":"c","type":"quantitative","axis":{"orient":"right","values":[0.95,1,1.05],"tickSize":-9,"labels":false,"title":null}}}},
  {"data":{"name":"d"},"mark":{"type":"line","opacity":0},
   "encoding":{
    "x":{"field":"t","type":"quantitative","axis":{"orient":"top","values":[1971,1972,1973,1974,1976,1977,1978,1979,1981,1982,1983,1984,1986,1987,1988,1989,1991,1992,1993,1994,1996,1997,1998,1999],"tickSize":-3,"labels":false,"title":null}},
    "y":{"field":"c","type":"quantitative","axis":{"orient":"right","values":[0.93,0.94,0.96,0.97,0.98,0.99,1.01,1.02,1.03,1.04],"tickSize":-5,"labels":false,"title":null}}}},
  {"data":{"values":[{}]},"mark":{"type":"text","font":"DejaVu Sans","fontSize":19,"align":"center","baseline":"middle","color":"#000"},
   "encoding":{"x":{"datum":1996.62,"type":"quantitative","axis":null},"y":{"datum":1.024,"type":"quantitative","axis":null},"text":{"value":"(c)"}}},
  {"data":{"values":[{}]},"mark":{"type":"text","font":"DejaVu Sans","fontSize":15,"align":"left","baseline":"middle","color":"#e31a1c"},
   "encoding":{"x":{"datum":1972.0,"type":"quantitative","axis":null},"y":{"datum":0.968,"type":"quantitative","axis":null},"text":{"value":"Model"}}},
  {"data":{"values":[{}]},"mark":{"type":"text","font":"DejaVu Sans","fontSize":15,"align":"left","baseline":"middle","color":"#3a4ca8"},
   "encoding":{"x":{"datum":1972.0,"type":"quantitative","axis":null},"y":{"datum":0.9455,"type":"quantitative","axis":null},"text":{"value":"Regression"}}}
 ]
},
{
 "width":506,"height":105,
 "resolve":{"axis":{"x":"independent","y":"independent"}},
 "layer":[
  {"data":{"name":"d"},"mark":{"type":"line","color":"#e31a1c","strokeWidth":1.4,"clip":true},
   "encoding":{
    "x":{"field":"t","type":"quantitative","scale":{"domain":[1970,2000],"nice":false,"zero":false},
      "axis":{"orient":"bottom","values":[1970,1975,1980,1985,1990,1995,2000],"format":"d","tickSize":-6,"labelPadding":24.8,"labelFlush":false,
        "title":"Date","titleX":253,"titleY":51,"titleAlign":"center","titleBaseline":"middle","titleAngle":0}},
    "y":{"field":"f","type":"quantitative","scale":{"domain":[0,400],"nice":false,"zero":false},
      "axis":{"orient":"left","values":[0,200,400],"format":"d","tickSize":-9,"labelPadding":18,
        "labelOffset":{"condition":[{"test":"datum.value == 400","value":10.5},{"test":"datum.value == 0","value":-6}],"value":2},
        "title":"F₁₀₇","titleX":-74,"titleY":52.5,"titleAngle":270,"titleAlign":"center","titleBaseline":"middle"}}}},
  {"data":{"name":"d"},"mark":{"type":"line","color":"#3a4ca8","strokeWidth":1.6,"clip":true},
   "encoding":{"x":{"field":"t","type":"quantitative","axis":null},"y":{"field":"fa","type":"quantitative","axis":null}}},
  {"data":{"name":"d"},"mark":{"type":"line","opacity":0},
   "encoding":{
    "x":{"field":"t","type":"quantitative","axis":{"orient":"bottom","values":[1971,1972,1973,1974,1976,1977,1978,1979,1981,1982,1983,1984,1986,1987,1988,1989,1991,1992,1993,1994,1996,1997,1998,1999],"tickSize":-3,"labels":false,"title":null}},
    "y":{"field":"f","type":"quantitative","axis":{"orient":"left","values":[50,100,150,250,300,350],"tickSize":-5,"labels":false,"title":null}}}},
  {"data":{"name":"d"},"mark":{"type":"line","opacity":0},
   "encoding":{
    "x":{"field":"t","type":"quantitative","axis":{"orient":"top","values":[1970,1975,1980,1985,1990,1995,2000],"tickSize":-6,"labels":false,"title":null}},
    "y":{"field":"f","type":"quantitative","axis":{"orient":"right","values":[0,200,400],"tickSize":-9,"labels":false,"title":null}}}},
  {"data":{"name":"d"},"mark":{"type":"line","opacity":0},
   "encoding":{
    "x":{"field":"t","type":"quantitative","axis":{"orient":"top","values":[1971,1972,1973,1974,1976,1977,1978,1979,1981,1982,1983,1984,1986,1987,1988,1989,1991,1992,1993,1994,1996,1997,1998,1999],"tickSize":-3,"labels":false,"title":null}},
    "y":{"field":"f","type":"quantitative","axis":{"orient":"right","values":[50,100,150,250,300,350],"tickSize":-5,"labels":false,"title":null}}}},
  {"data":{"values":[{}]},"mark":{"type":"text","font":"DejaVu Sans","fontSize":19,"align":"center","baseline":"middle","color":"#000"},
   "encoding":{"x":{"datum":1996.62,"type":"quantitative","axis":null},"y":{"datum":323,"type":"quantitative","axis":null},"text":{"value":"(d)"}}},
  {"data":{"values":[{}]},"mark":{"type":"text","font":"DejaVu Sans","fontSize":15,"fontWeight":"bold","align":"left","baseline":"middle","color":"#e31a1c"},
   "encoding":{"x":{"datum":1972.0,"type":"quantitative","axis":null},"y":{"datum":344,"type":"quantitative","axis":null},"text":{"value":"F₁₀₇"}}},
  {"data":{"values":[{}]},"mark":{"type":"text","font":"DejaVu Sans","fontSize":15,"fontWeight":"bold","align":"left","baseline":"middle","color":"#3a4ca8"},
   "encoding":{"x":{"datum":1972.0,"type":"quantitative","axis":null},"y":{"datum":279,"type":"quantitative","axis":null},"text":{"value":"F₁₀₇ₐ"}}}
 ]
}
]
}
